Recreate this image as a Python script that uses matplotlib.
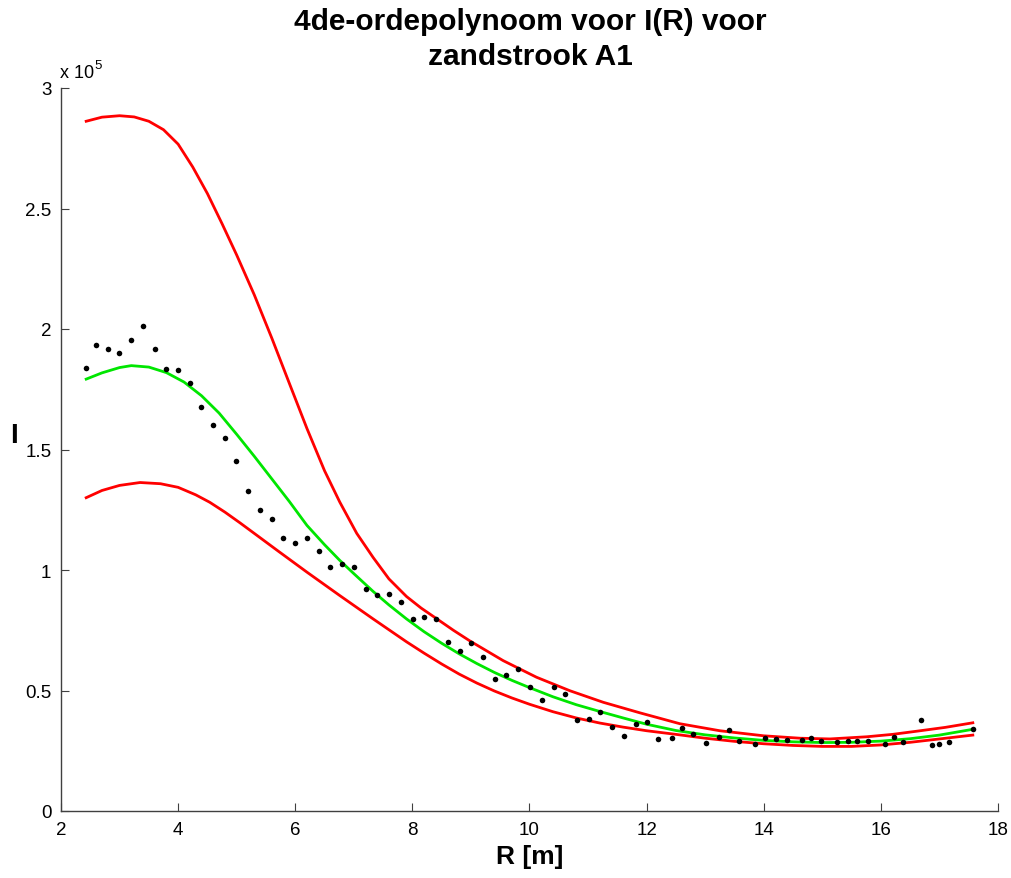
import numpy as np
import matplotlib
matplotlib.use("Agg")
import matplotlib.pyplot as plt
from matplotlib.ticker import FuncFormatter

plt.rcParams['font.family'] = ['Liberation Sans', 'DejaVu Sans']

SCALE = 1e5

# measured points: R [m], I [x1e5]
R_data = [2.427, 2.598, 2.797, 2.996, 3.190, 3.395, 3.600, 3.798, 3.998, 4.198,
          4.396, 4.596, 4.795, 4.994, 5.193, 5.398, 5.598, 5.796, 5.996, 6.201,
          6.401, 6.599, 6.798, 7.003, 7.203, 7.401, 7.601, 7.806, 8.006, 8.204,
          8.404, 8.609, 8.808, 9.006, 9.201, 9.406, 9.604, 9.804, 10.009, 10.209,
          10.413, 10.607, 10.806, 11.016, 11.209, 11.404, 11.614, 11.814, 12.012, 12.200,
          12.428, 12.610, 12.800, 13.010, 13.236, 13.412, 13.578, 13.851, 14.022, 14.210,
          14.403, 14.649, 14.808, 14.973, 15.257, 15.444, 15.588, 15.786, 16.071, 16.230,
          16.373, 16.681, 16.868, 16.993, 17.169, 17.569]
I_data = [1.839, 1.934, 1.918, 1.901, 1.956, 2.012, 1.915, 1.832, 1.828, 1.778,
          1.678, 1.600, 1.547, 1.452, 1.327, 1.247, 1.213, 1.133, 1.111, 1.133,
          1.079, 1.014, 1.025, 1.014, 0.923, 0.898, 0.900, 0.868, 0.797, 0.804,
          0.795, 0.702, 0.665, 0.697, 0.639, 0.549, 0.566, 0.589, 0.513, 0.462,
          0.513, 0.487, 0.378, 0.383, 0.410, 0.350, 0.313, 0.362, 0.369, 0.300,
          0.303, 0.343, 0.320, 0.282, 0.306, 0.336, 0.292, 0.278, 0.302, 0.299,
          0.296, 0.296, 0.302, 0.292, 0.288, 0.289, 0.289, 0.289, 0.278, 0.306,
          0.285, 0.378, 0.275, 0.278, 0.288, 0.340]

# 4th-order polynomial fit
R_fit = [2.43, 2.7, 3.0, 3.2, 3.5, 3.8, 4.1, 4.4, 4.7, 5.0, 5.3, 5.6, 5.9, 6.2,
         6.5, 6.76, 7.0, 7.33, 7.6, 7.9, 8.2, 8.5, 8.8, 9.1, 9.4, 9.7, 10.0,
         10.4, 10.8, 11.2, 11.6, 12.0, 12.5, 13.0, 13.5, 14.0, 14.5, 15.0, 15.5,
         16.0, 16.5, 17.0, 17.57]
I_fit = [1.792, 1.818, 1.840, 1.848, 1.842, 1.819, 1.780, 1.723, 1.651, 1.563,
         1.472, 1.378, 1.284, 1.185, 1.105, 1.040, 0.985, 0.911, 0.855, 0.797,
         0.744, 0.696, 0.652, 0.612, 0.575, 0.542, 0.512, 0.474, 0.441, 0.413,
         0.386, 0.360, 0.334, 0.316, 0.303, 0.293, 0.287, 0.284, 0.285, 0.290,
         0.300, 0.315, 0.339]

# upper bound
R_up = [2.43, 2.7, 3.0, 3.25, 3.5, 3.75, 4.0, 4.25, 4.5, 4.75, 5.0, 5.3, 5.6,
        5.9, 6.2, 6.5, 6.76, 7.05, 7.33, 7.6, 7.9, 8.15, 8.42, 8.7, 8.98, 9.55,
        10.12, 10.69, 11.26, 11.89, 12.57, 13.25, 14.0, 14.62, 15.13, 15.76,
        16.2, 16.61, 17.1, 17.57]
I_up = [2.862, 2.879, 2.885, 2.880, 2.862, 2.827, 2.767, 2.672, 2.562, 2.437,
        2.307, 2.142, 1.962, 1.774, 1.587, 1.412, 1.282, 1.152, 1.052, 0.963,
        0.890, 0.842, 0.797, 0.750, 0.706, 0.624, 0.555, 0.499, 0.451, 0.407,
        0.362, 0.333, 0.312, 0.302, 0.299, 0.308, 0.318, 0.331, 0.347, 0.366]

# lower bound
R_lo = [2.43, 2.7, 3.0, 3.35, 3.7, 4.0, 4.3, 4.54, 4.8, 5.06, 5.4, 5.7, 6.2,
        6.76, 7.33, 7.9, 8.2, 8.5, 8.8, 9.1, 9.4, 9.7, 10.0, 10.4, 10.8, 11.2,
        11.6, 12.0, 12.5, 13.0, 13.5, 14.0, 14.5, 15.0, 15.5, 16.0, 16.5, 17.0,
        17.57]
I_lo = [1.300, 1.330, 1.351, 1.363, 1.358, 1.343, 1.312, 1.281, 1.240, 1.195,
        1.134, 1.080, 0.991, 0.894, 0.797, 0.702, 0.655, 0.610, 0.568, 0.531,
        0.498, 0.469, 0.443, 0.412, 0.386, 0.365, 0.348, 0.333, 0.318, 0.302,
        0.289, 0.279, 0.272, 0.268, 0.268, 0.274, 0.285, 0.299, 0.315]

x_ticks = [2, 4, 6, 8, 10, 12, 14, 16, 18]
y_ticks = [0, 0.5, 1, 1.5, 2, 2.5, 3]

W, H = 1012, 879
fig = plt.figure(figsize=(W / 100, H / 100), dpi=100)
ax = fig.add_axes([61 / W, 1 - 812 / H, (998 - 61) / W, (812 - 89) / H])

ax.plot(R_data, np.array(I_data) * SCALE, 'o', color='black', markersize=4.0,
        markeredgewidth=0, zorder=3)
ax.plot(R_fit, np.array(I_fit) * SCALE, '-', color='#00e600', linewidth=2.0,
        zorder=2, solid_joinstyle='round')
ax.plot(R_up, np.array(I_up) * SCALE, '-', color='#ff0000', linewidth=2.0,
        zorder=2, solid_joinstyle='round')
ax.plot(R_lo, np.array(I_lo) * SCALE, '-', color='#ff0000', linewidth=2.0,
        zorder=2, solid_joinstyle='round')

ax.set_xlim(2, 18)
ax.set_ylim(0, 3 * SCALE)
ax.set_xticks(x_ticks)
ax.set_yticks(np.array(y_ticks) * SCALE)
ax.yaxis.set_major_formatter(FuncFormatter(lambda v, p: f"{v / SCALE:g}"))
ax.xaxis.set_major_formatter(FuncFormatter(lambda v, p: f"{v:g}"))

for s in ['top', 'right']:
    ax.spines[s].set_visible(False)
for s in ['left', 'bottom']:
    ax.spines[s].set_color('#404040')
    ax.spines[s].set_linewidth(1.0)
ax.tick_params(direction='in', length=6, width=0.8, color='#404040',
               labelsize=13.5, labelcolor='black', pad=7)

# exponent label
fig.text(60 / W, 1 - 78 / H, 'x 10', fontsize=13, ha='left', va='baseline')
fig.text(94 / W, 1 - 69 / H, '5', fontsize=9.5, ha='left', va='baseline')

# title
fig.text(530 / W, 1 - 22 / H, '4de-ordepolynoom voor I(R) voor', fontsize=21.5,
         fontweight='bold', ha='center', va='center')
fig.text(530 / W, 1 - 57 / H, 'zandstrook A1', fontsize=21.5,
         fontweight='bold', ha='center', va='center')

# axis labels
fig.text(530 / W, 1 - 857 / H, 'R [m]', fontsize=19, fontweight='bold',
         ha='center', va='center')
fig.text(14 / W, 1 - 436 / H, 'I', fontsize=20, fontweight='bold',
         ha='center', va='center')

fig.savefig('out.png', dpi=100, facecolor='white')
